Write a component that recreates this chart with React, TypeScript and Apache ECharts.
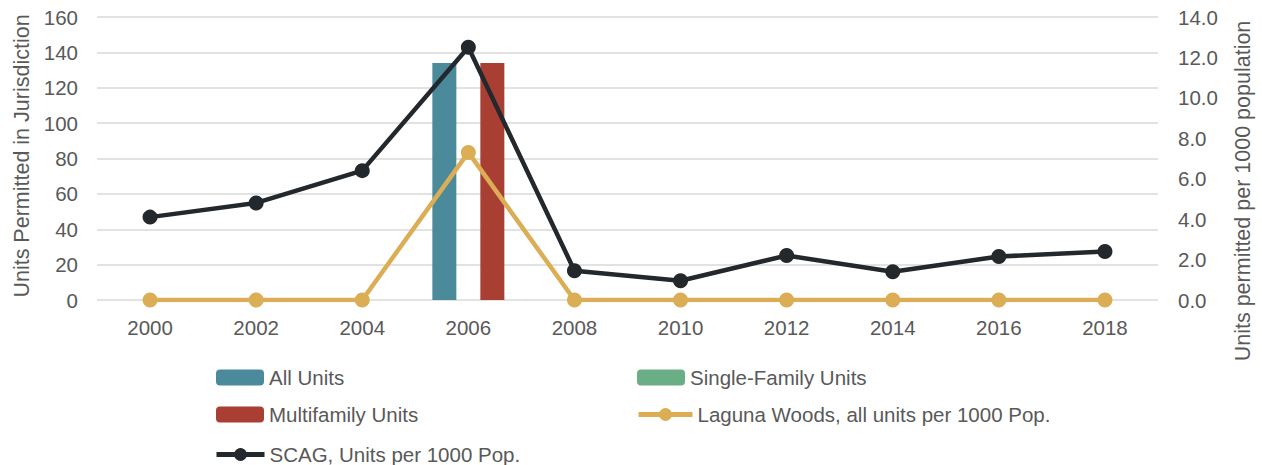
import React, { useEffect, useRef } from "react";
import * as echarts from "echarts";

const years = ["2000", "2002", "2004", "2006", "2008", "2010", "2012", "2014", "2016", "2018"];
const allUnits = [0, 0, 0, 134, 0, 0, 0, 0, 0, 0];
const singleFamily = [0, 0, 0, 0, 0, 0, 0, 0, 0, 0];
const multifamily = [0, 0, 0, 134, 0, 0, 0, 0, 0, 0];
const lagunaPer1000 = [0, 0, 0, 7.3, 0, 0, 0, 0, 0, 0];
const scagPer1000 = [4.1, 4.8, 6.4, 12.5, 1.45, 0.95, 2.2, 1.4, 2.15, 2.4];

const leftTitle = "Units Permitted in Jurisdiction";
const rightTitle = "Units permitted per 1000 population";

const FONT = "'Liberation Sans', Arial, sans-serif";
const GREY = "#595959";
const FS = 20.5;
const TITLE_FS = 21.5;

export default function App() {
  const ref = useRef<HTMLDivElement>(null);
  useEffect(() => {
    if (!ref.current) return;
    const chart = echarts.init(ref.current, null, { renderer: "svg" });
    const legendText = { color: GREY, fontSize: FS, fontFamily: FONT };
    const mkLegend = (name: string, left: number, top: number, w = 48) => ({
      data: [name],
      left,
      top,
      itemWidth: w,
      itemHeight: 16,
      itemGap: 4,
      textStyle: legendText,
      lineStyle: { width: 5 },
      selectedMode: false,
    });
    chart.setOption({
      animation: false,
      textStyle: { fontFamily: FONT },
      grid: { left: 97, right: 104, top: 17, bottom: 165 },
      legend: [
        mkLegend("All Units", 211, 362),
        mkLegend("Single-Family Units", 632, 362),
        mkLegend("Multifamily Units", 211, 399),
        mkLegend("Laguna Woods, all units per 1000 Pop.", 631, 399, 54),
        mkLegend("SCAG, Units per 1000 Pop.", 209, 439, 48),
      ],
      xAxis: {
        type: "category",
        data: years,
        axisLine: { show: false },
        axisTick: { show: false },
        axisLabel: { color: GREY, fontSize: FS, margin: 17 },
      },
      yAxis: [
        {
          type: "value",
          min: 0,
          max: 160,
          interval: 20,
          axisLine: { show: false },
          axisTick: { show: false },
          axisLabel: { color: GREY, fontSize: FS, margin: 19 },
          splitLine: { lineStyle: { color: "#d9d9d9", width: 1.5 } },
        },
        {
          type: "value",
          min: 0,
          max: 14,
          interval: 2,
          position: "right",
          axisLine: { show: false },
          axisTick: { show: false },
          axisLabel: {
            color: GREY,
            fontSize: FS,
            margin: 20,
            formatter: (v: number) => v.toFixed(1),
          },
          splitLine: { show: false },
        },
      ],
      graphic: [
        {
          type: "text",
          x: 22,
          y: 156,
          rotation: Math.PI / 2,
          style: {
            text: leftTitle,
            fill: GREY,
            fontSize: TITLE_FS,
            fontFamily: FONT,
            textAlign: "center",
            textVerticalAlign: "middle",
          },
        },
        {
          type: "text",
          x: 1243,
          y: 191,
          rotation: Math.PI / 2,
          style: {
            text: rightTitle,
            fill: GREY,
            fontSize: TITLE_FS,
            fontFamily: FONT,
            textAlign: "center",
            textVerticalAlign: "middle",
          },
        },
      ],
      series: [
        {
          name: "All Units",
          type: "bar",
          data: allUnits,
          barWidth: 24,
          barGap: 0,
          itemStyle: { color: "#4a8a9b" },
        },
        {
          name: "Single-Family Units",
          type: "bar",
          data: singleFamily,
          barWidth: 24,
          barGap: 0,
          itemStyle: { color: "#69ae84" },
        },
        {
          name: "Multifamily Units",
          type: "bar",
          data: multifamily,
          barWidth: 24,
          barGap: 0,
          itemStyle: { color: "#a93e32" },
        },
        {
          name: "Laguna Woods, all units per 1000 Pop.",
          type: "line",
          yAxisIndex: 1,
          data: lagunaPer1000,
          symbol: "circle",
          symbolSize: 15,
          lineStyle: { color: "#dbae56", width: 4.5 },
          itemStyle: { color: "#dbae56" },
        },
        {
          name: "SCAG, Units per 1000 Pop.",
          type: "line",
          yAxisIndex: 1,
          data: scagPer1000,
          symbol: "circle",
          symbolSize: 15,
          lineStyle: { color: "#23282d", width: 4.5 },
          itemStyle: { color: "#23282d" },
        },
      ],
    });
    return () => chart.dispose();
  }, []);
  return <div ref={ref} style={{ width: 1262, height: 465, position: "absolute", left: 0, top: 0 }} />;
}
